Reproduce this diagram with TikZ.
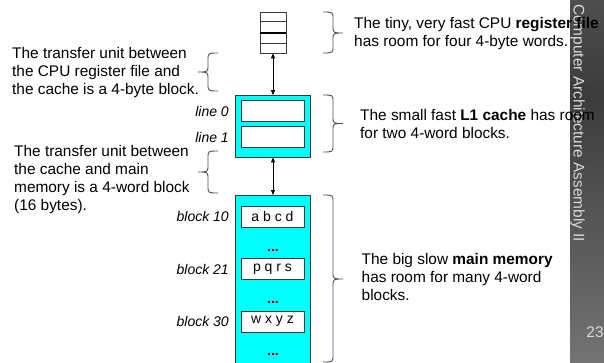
\documentclass[tikz,border=0pt]{standalone}
\usepackage{fontspec}
\setmainfont{Liberation Sans}
\usetikzlibrary{arrows.meta}

\definecolor{memcyan}{HTML}{00FFFF}
\definecolor{edge}{HTML}{3A3A3A}
\definecolor{bracegray}{HTML}{505050}
\definecolor{bartext}{HTML}{DADADA}
\definecolor{barlow}{HTML}{737373}
\definecolor{bardark}{HTML}{3B3B3B}
\definecolor{bartop}{HTML}{4E4E4E}

% side bar: light at the bottom, darkest a third of the way down
\pgfdeclareverticalshading{sidebarshade}{100bp}{%
  color(0bp)=(barlow); color(25bp)=(barlow); color(62bp)=(bardark);
  color(75bp)=(bartop); color(100bp)=(bartop)}

% right curly brace: ends at x=#1, from y=#2 to y=#3, point at y=#4
\newcommand{\rcurly}[4]{%
  \draw[bracepen] (#1,#2) .. controls (#1+10,#2) .. (#1+10,#2+7)
    -- (#1+10,#4-7) .. controls (#1+10,#4) .. (#1+20,#4)
    .. controls (#1+10,#4) .. (#1+10,#4+7)
    -- (#1+10,#3-7) .. controls (#1+10,#3) .. (#1,#3);}
% left curly brace, mirrored
\newcommand{\lcurly}[4]{%
  \draw[bracepen] (#1,#2) .. controls (#1-10,#2) .. (#1-10,#2+7)
    -- (#1-10,#4-7) .. controls (#1-10,#4) .. (#1-20,#4)
    .. controls (#1-10,#4) .. (#1-10,#4+7)
    -- (#1-10,#3-7) .. controls (#1-10,#3) .. (#1,#3);}

\tikzset{
  bracepen/.style={draw=bracegray, line width=0.9pt},
  regbox/.style={draw=edge, line width=0.8pt, fill=white, minimum width=26, minimum height=41, inner sep=0},
  cachebox/.style={draw=edge, line width=0.8pt, fill=memcyan, inner sep=0},
  slotbox/.style={draw=edge, line width=0.8pt, fill=white, inner sep=0, minimum width=63,
                  font=\fontsize{14}{16}\selectfont},
  conn/.style={draw=black, line width=0.7pt, {Triangle[length=5pt,width=4pt]}-{Triangle[length=5pt,width=4pt]}},
  txt/.style={font=\fontsize{15.4}{18}\selectfont, align=left, inner sep=0, anchor=west},
  lbl/.style={font=\fontsize{14}{16}\selectfont\itshape, inner sep=0, anchor=east},
  dots/.style={font=\fontsize{14}{16}\selectfont\bfseries, inner sep=0, anchor=base},
  bartxt/.style={text=bartext, inner sep=0}
}

\begin{document}
\begin{tikzpicture}[x=1pt, y=-1pt]
\useasboundingbox (0,0) rectangle (604,362);
\fill[white] (0,0) rectangle (604,362);

% side bar
\shade[shading=sidebarshade] (570,0) rectangle (604,362);
\node[bartxt, rotate=-90, anchor=base west, font=\fontsize{15.4}{18}\selectfont] (bartitle) at (573.5,4) {Computer Architecture Assembly II};
\node[bartxt, font=\fontsize{15.4}{18}\selectfont] (pagenum) at (595,332) {23};

% register file
\node[regbox] (reg) at (273,32.5) {};
\draw[edge, line width=0.8pt] ([yshift=-10.25pt]reg.north west) -- ([yshift=-10.25pt]reg.north east);
\draw[black, line width=2pt] (reg.west) -- (reg.east);
\draw[edge, line width=0.8pt] ([yshift=10.25pt]reg.south west) -- ([yshift=10.25pt]reg.south east);

% L1 cache
\node[cachebox, minimum width=75, minimum height=61.5] (cache) at (273,126.25) {};
\node[slotbox, minimum height=21] (line0) at (273,111.2) {};
\node[slotbox, minimum height=21.5] (line1) at (273,137) {};
\node[lbl] (lab0) at (229,111.5) {line 0};
\node[lbl] (lab1) at (229,137) {line 1};

% main memory (runs past the bottom edge)
\node[cachebox, minimum width=75, minimum height=180, anchor=north] (mem) at (273,195) {};
\node[slotbox, minimum height=21] (blk10) at (272.5,216.6) {a b c d};
\node[slotbox, minimum height=21] (blk21) at (272.5,269) {p q r s};
\node[slotbox, minimum height=21] (blk30) at (272.5,321.5) {w x y z};
\node[dots] (gap1) at (273,251) {...};
\node[dots] (gap2) at (273,303.5) {...};
\node[dots] (gap3) at (273,355.5) {...};
\node[lbl] (lab10) at (229,216.6) {block 10};
\node[lbl] (lab21) at (229,269) {block 21};
\node[lbl] (lab30) at (229,321.5) {block 30};

% transfers between levels
\draw[conn] (reg.south) -- (cache.north);
\draw[conn] (cache.south) -- (mem.north);

% braces
\rcurly{323}{12}{53}{33}
\rcurly{323}{95}{152}{123.5}
\rcurly{323}{195}{362}{279}
\lcurly{218}{53}{91}{72}
\lcurly{218}{151}{193}{172}

% notes
\node[txt] (regnote) at (354,34) {The tiny, very fast CPU \textbf{register file}\\has room for four 4-byte words.};
\node[txt] (cachenote) at (360,124) {The small fast \textbf{L1 cache} has room\\for two 4-word blocks.};
\node[txt] (memnote) at (361.5,277) {The big slow \textbf{main memory}\\has room for many 4-word\\blocks.};
\node[txt] (xfer1) at (12,72.5) {The transfer unit between\\the CPU register file and\\the cache is a 4-byte block.};
\node[txt] (xfer2) at (14,180) {The transfer unit between\\the cache and main\\memory is a 4-word block\\(16 bytes).};
\end{tikzpicture}
\end{document}
